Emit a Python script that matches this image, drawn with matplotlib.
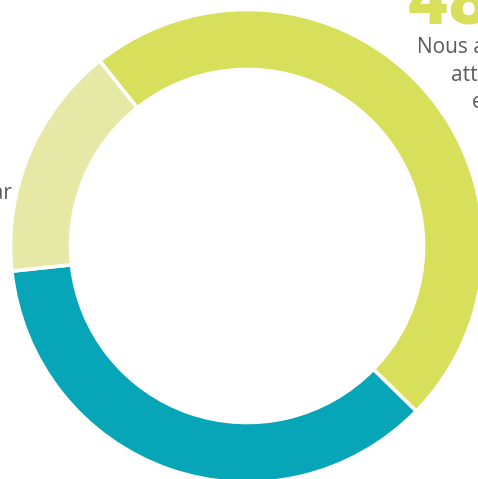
import matplotlib
matplotlib.use("Agg")
import matplotlib.pyplot as plt

# ---------- data ----------
labels = ["Atteint", "En cours", "Autre"]
shares = [48, 36, 16]
colors = ["#d8df5b", "#06a6b8", "#e6e9a6"]

big_value = "48%"
note_lines = ["Nous avons", "atteint", "en"]
left_word = "par"

# ---------- palette ----------
GRAY = "#5b5b5b"
BIG = "#d8df5b"

W, H = 478, 479
fig = plt.figure(figsize=(W / 100, H / 100), dpi=100)
ax = fig.add_axes([0, 0, 1, 1])

cx, cy = 247, H - 246
r_out, ring = 236.5, 60

ax.pie(shares, colors=colors, startangle=128.5, counterclock=False,
       center=(cx, cy), radius=r_out, frame=True,
       wedgeprops=dict(width=ring, edgecolor="white", linewidth=2.6))
ax.set_xlim(0, W)
ax.set_ylim(0, H)
ax.set_aspect("equal")
ax.axis("off")

# ---------- text (cropped like the source) ----------
ax.text(407, H - 24, big_value, fontfamily="Roboto", fontweight="heavy",
        fontsize=52, color=BIG, ha="left", va="baseline")
for line, x, y in zip(note_lines, [417, 451, 472], [53, 81, 108]):
    ax.text(x, H - y, line, fontfamily="Open Sans", fontsize=15,
            color=GRAY, ha="left", va="baseline")
ax.text(12.5, H - 199, left_word, fontfamily="Open Sans", fontsize=15,
        color=GRAY, ha="right", va="baseline")

fig.savefig("out.png", dpi=100, facecolor="white")
